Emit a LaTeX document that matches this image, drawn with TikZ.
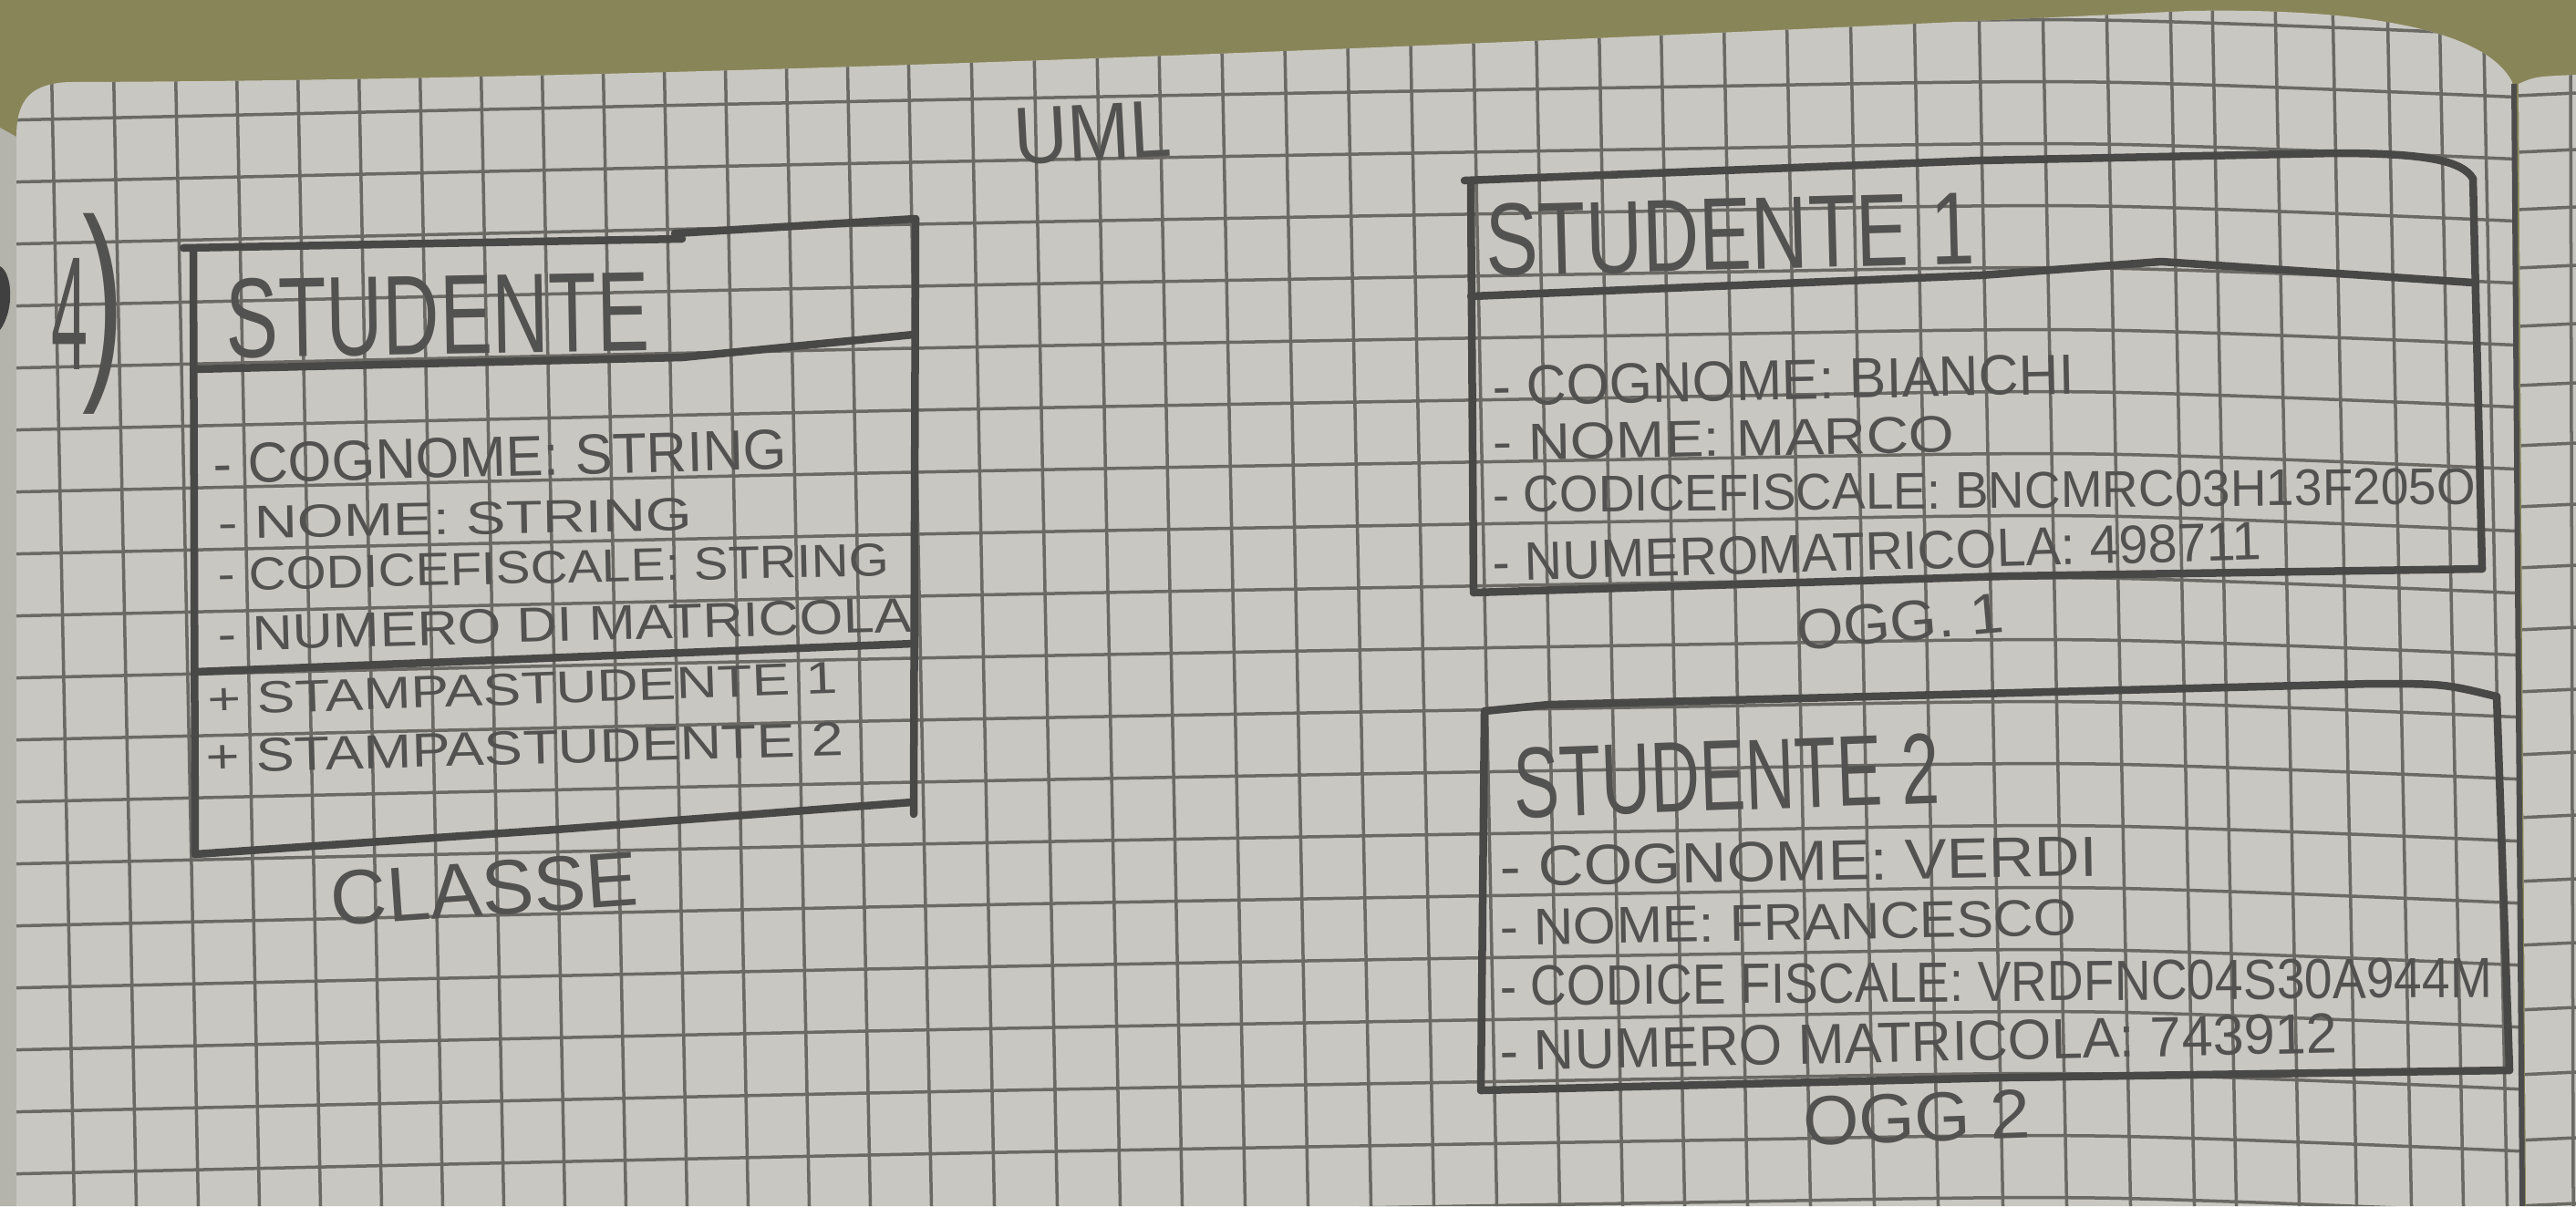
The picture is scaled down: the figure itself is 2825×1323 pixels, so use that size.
\documentclass[tikz,border=0pt]{standalone}
\usepackage{fontspec}
\setmainfont{Liberation Sans}
\usepackage{graphicx}

\definecolor{desk}{RGB}{136,134,88}
\definecolor{paper}{RGB}{201,199,193}
\definecolor{paperedge}{RGB}{180,179,172}
\definecolor{gridline}{RGB}{106,105,100}
\definecolor{ink}{RGB}{72,72,70}
\definecolor{pencil}{RGB}{82,82,80}

\tikzset{
  gridrule/.style={draw=gridline, line width=0.035cm},
  penline/.style={draw=ink, line width=0.085cm, line cap=round, line join=round},
  inktext/.style={inner sep=0pt, outer sep=0pt, text=pencil},
}

% handwritten line of text fitted into a box: [rotation]{name}{x0}{x1}{y0}{y1}{text}
\newcommand\inkline[7][0]{%
  \pgfmathsetmacro\inkw{(#4-#3)*0.01}%
  \pgfmathsetmacro\inkh{(#6-#5)*0.01}%
  \node[inktext, rotate=#1] (#2) at ({(#3+#4)/2},{(#5+#6)/2}) {\resizebox*{\inkw cm}{\inkh cm}{#7}};%
}

\def\leftpage{(18,1323) -- (18,150) .. controls (18,108) and (35,92) .. (75,90)
  .. controls (700,88) and (1500,55) .. (2400,12)
  .. controls (2620,8) and (2730,40) .. (2755,90) -- (2764,1323) -- cycle}
\def\rightpage{(2770,1323) -- (2762,92) .. controls (2780,84) .. (2825,82) -- (2825,1323) -- cycle}

\begin{document}
\begin{tikzpicture}[x=0.01cm,y=-0.01cm]
\useasboundingbox (0,0) rectangle (2825,1323);

% desk and notebook pages
\fill[desk] (0,0) rectangle (2825,1323);
\fill[paperedge] (0,140) -- (18,150) -- (18,1323) -- (0,1323) -- cycle;
\fill[black!75] (0,292) .. controls (14,300) and (16,340) .. (0,362) -- cycle;
\fill[paper] \leftpage;
\fill[paper] \rightpage;

% squared ruling of the left page
\begin{scope}
  \clip \leftpage;
  \foreach \k in {-4,...,16} {
    \pgfmathsetmacro\rowy{268+68*\k}
    \draw[gridrule] plot[smooth] coordinates {(0,\rowy) (1000,\rowy-22) (1850,\rowy-37) (2300,\rowy-42) (2770,\rowy-25)};
  }
  \foreach \vx in {65,133,201,268,335,402,469,536,603,670,737,804,871,938,1005,
                   1074,1143,1212,1280,1349,1418,1487,1556,1625,1694,1763,1831,1900,
                   1969,2039,2109,2180,2250,2320,2390,2436,2505,2568,2628,2685,2733} {
    \draw[gridrule] ({\vx-10},0) -- ({\vx+16.5},1323);
  }
\end{scope}

% squared ruling of the right page
\begin{scope}
  \clip \rightpage;
  \foreach \yy in {105,167,230,294,358,423,489,556,623,691,759,828,897,967,1037,1108,1179,1251,1323} {
    \draw[gridrule] (2760,\yy) -- (2825,\yy-3);
  }
  \draw[gridrule] (2819,80) -- (2822,1323);
\end{scope}
\draw[line width=0.06cm, black!70] (2757,92) -- (2766,1323);

% heading and exercise number
\inkline[3]{uml}{1112}{1285}{115}{177}{UML}
\node[inktext, anchor=base west] (exnum) at (56,405)
  {\resizebox*{0.40cm}{1.22cm}{4}\hspace{-0.06cm}\resizebox*{0.46cm}{2.2cm}{)}};

% class box
\coordinate (cTL) at (212,272);
\coordinate (cTR) at (1004,240);
\coordinate (cBR) at (1002,893);
\coordinate (cBL) at (214,937);
\draw[penline] (201,272) -- (748,262);
\draw[penline] (740,256) -- (cTR);
\draw[penline] (cTL) -- (cBL);
\draw[penline] (cTR) -- (cBR);
\draw[penline] (212,405) -- (748,392) -- (1002,367);
\draw[penline] (214,737) -- (1002,706);
\draw[penline] (cBL) -- (609,910) -- (1000,880);

\inkline[1]{ctitle}{248}{712}{302}{390}{STUDENTE}
\inkline[1.5]{ca1}{234}{863}{479}{523}{- COGNOME: STRING}
\inkline[1]{ca2}{239}{759}{551}{587}{- NOME: STRING}
\inkline[1.3]{ca3}{239}{975}{604}{640}{- CODICEFISCALE: STRING}
\inkline[1.6]{ca4}{239}{1000}{666}{704}{- NUMERO DI MATRICOLA}
\inkline[2]{cm1}{228}{919}{738}{773}{+ STAMPASTUDENTE 1}
\inkline[1.6]{cm2}{226}{925}{802}{839}{+ STAMPASTUDENTE 2}
\inkline[4]{classe}{362}{700}{945}{1005}{CLASSE}

% first object
\coordinate (aTL) at (1613,200);
\coordinate (aTR) at (2712,196);
\coordinate (aBR) at (2722,624);
\coordinate (aBL) at (1616,650);
\draw[penline] (1606,198) -- (2172,176) -- (2560,168) .. controls (2660,168) and (2700,176) .. (aTR);
\draw[penline] (aTL) -- (aBL);
\draw[penline] (aTR) -- (aBR);
\draw[penline] (1613,325) -- (2172,302) -- (2370,287) -- (2712,310);
\draw[penline] (aBL) -- (2200,632) -- (aBR);

\inkline[1.5]{otitle}{1629}{2165}{217}{297}{STUDENTE 1}
\inkline[1.2]{oa1}{1637}{2275}{395}{439}{- COGNOME: BIANCHI}
\inkline[1]{oa2}{1637}{2143}{461}{501}{- NOME: MARCO}
\inkline[0.5]{oa3}{1637}{2715}{518}{558}{- CODICEFISCALE: BNCMRC03H13F205O}
\inkline[1.6]{oa4}{1637}{2480}{584}{626}{- NUMEROMATRICOLA: 498711}
\inkline[5]{ogg1}{1970}{2198}{660}{704}{OGG. 1}

% second object
\coordinate (bTL) at (1628,780);
\coordinate (bTR) at (2738,764);
\coordinate (bBR) at (2752,1174);
\coordinate (bBL) at (1624,1196);
\draw[penline] (bTL) -- (1698,773) -- (2601,750) .. controls (2680,750) .. (bTR);
\draw[penline] (bTL) -- (bBL);
\draw[penline] (bTR) -- (bBR);
\draw[penline] (bBL) -- (2200,1182) -- (bBR);

\inkline[2]{ptitle}{1660}{2127}{812}{890}{STUDENTE 2}
\inkline[1]{pa1}{1645}{2300}{923}{967}{- COGNOME: VERDI}
\inkline[1]{pa2}{1645}{2277}{992}{1032}{- NOME: FRANCESCO}
\inkline[0.5]{pa3}{1645}{2733}{1055}{1099}{- CODICE FISCALE: VRDFNC04S30A944M}
\inkline[1.2]{pa4}{1645}{2563}{1121}{1165}{- NUMERO MATRICOLA: 743912}
\inkline[2]{ogg2}{1977}{2227}{1199}{1253}{OGG 2}
\end{tikzpicture}
\end{document}
